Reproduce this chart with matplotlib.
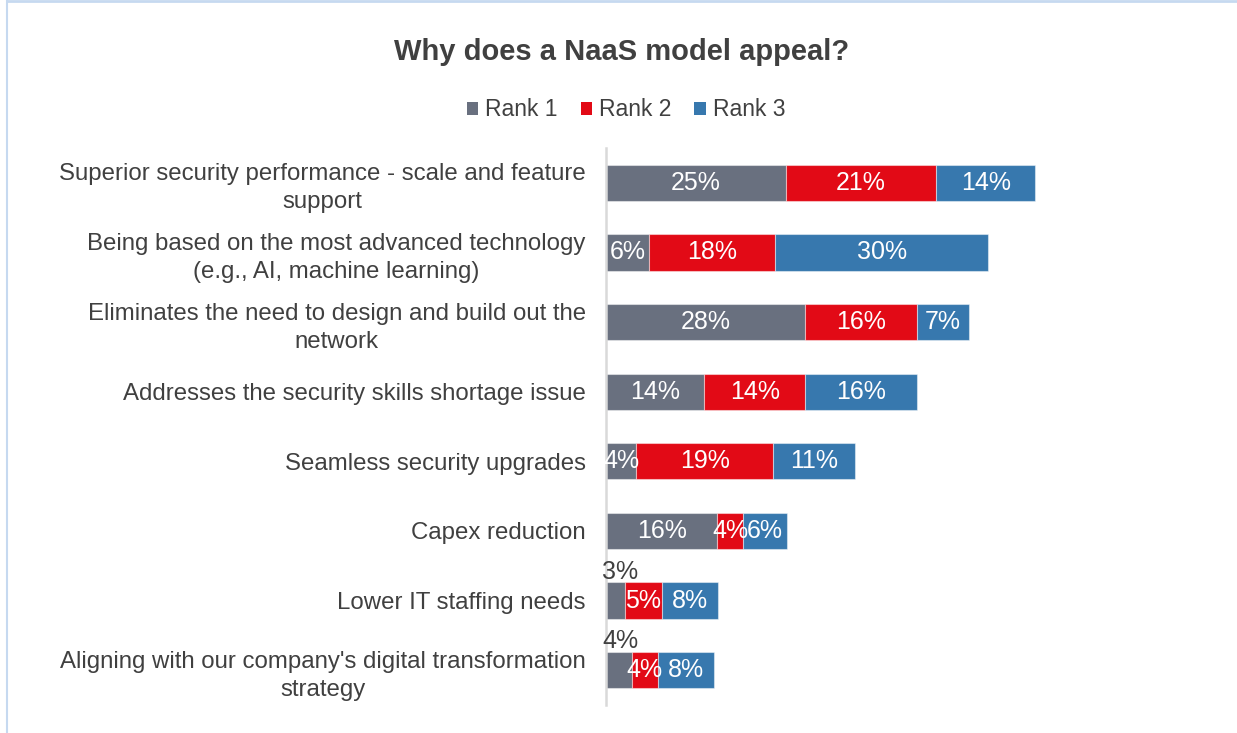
import matplotlib
matplotlib.use("Agg")
import matplotlib.pyplot as plt
from matplotlib.lines import Line2D
from matplotlib.patches import Patch

plt.rcParams['font.family'] = ['Liberation Sans', 'DejaVu Sans']

categories = [
    "Superior security performance - scale and feature\nsupport",
    "Being based on the most advanced technology\n(e.g., AI, machine learning)",
    "Eliminates the need to design and build out the\nnetwork",
    "Addresses the security skills shortage issue",
    "Seamless security upgrades",
    "Capex reduction",
    "Lower IT staffing needs",
    "Aligning with our company's digital transformation\nstrategy",
]
rank1 = [25.1, 6.0, 27.8, 13.7, 4.2, 15.5, 2.6, 3.6]
rank2 = [20.9, 17.6, 15.6, 14.1, 19.1, 3.6, 5.2, 3.6]
rank3 = [13.9, 29.7, 7.2, 15.6, 11.4, 6.1, 7.8, 7.8]
series_names = ["Rank 1", "Rank 2", "Rank 3"]
colors = ["#69707F", "#E20A16", "#3778AE"]
title = "Why does a NaaS model appeal?"

W, H = 1237, 733
fig = plt.figure(figsize=(W / 100, H / 100), dpi=100)
ax_left, ax_right, ax_top, ax_bot = 606, 1206, 148, 705
ax = fig.add_axes([ax_left / W, 1 - ax_bot / H, (ax_right - ax_left) / W, (ax_bot - ax_top) / H])

px_per_pct = 7.17
ax.set_xlim(0, (ax_right - ax_left) / px_per_pct)
ax.set_ylim(len(categories) - 0.5, -0.5)

ypos = list(range(len(categories)))
left = [0] * len(categories)
edge = (1, 1, 1, 0.45)
for name, vals, col in zip(series_names, [rank1, rank2, rank3], colors):
    ax.barh(ypos, vals, left=left, height=0.52, color=col, edgecolor=edge, linewidth=0.8, label=name)
    for y, v, l in zip(ypos, vals, left):
        cx = l + v / 2
        lab = f"{v:.0f}%"
        if name == "Rank 1" and y >= 6:
            ax.text(-0.55, y - 0.24, lab, ha="left", va="bottom", color="#404040", fontsize=18)
        else:
            ax.text(cx, y, lab, ha="center", va="center", color="white", fontsize=18)
    left = [a + b for a, b in zip(left, vals)]

ax.set_yticks(ypos)
ax.set_yticklabels(categories, fontsize=17.3, color="#404040", multialignment="center", linespacing=1.35)
ax.tick_params(axis="y", length=0, pad=14.5)
ax.set_xticks([])
for s in ["top", "right", "bottom"]:
    ax.spines[s].set_visible(False)
ax.spines["left"].set_color("#D9D9D9")
ax.spines["left"].set_linewidth(1.8)

fig.text(622 / W, 1 - 52 / H, title, ha="center", va="center", fontsize=21, fontweight="bold", color="#404040")

handles = [Patch(facecolor=c, edgecolor="none") for c in colors]
fig.legend(handles, series_names, loc="center", bbox_to_anchor=(626 / W, 1 - 110 / H), ncol=3,
           frameon=False, fontsize=16.5, labelcolor="#404040", handlelength=0.5, handleheight=0.5,
           handletextpad=0.3, columnspacing=1.0)

bc = "#C6D9F0"
fig.add_artist(Line2D([6.5 / W, 6.5 / W], [0, 1], transform=fig.transFigure, color=bc, lw=1.5))
fig.add_artist(Line2D([6.5 / W, 1], [1 - 1 / H, 1 - 1 / H], transform=fig.transFigure, color=bc, lw=2))

fig.savefig("out.png", dpi=100, facecolor="white")
